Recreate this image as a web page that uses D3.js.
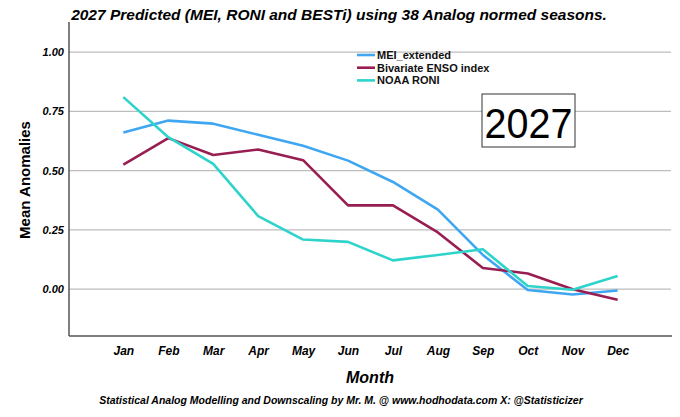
<!DOCTYPE html>
<html>
<head>
<meta charset="utf-8">
<script src="https://cdn.jsdelivr.net/npm/d3@7"></script>
<style>
  body { margin: 0; background: #fff; }
  svg { display: block; }
</style>
</head>
<body>
<svg id="chart" width="680" height="417"></svg>
<script>
// values
const months = ['Jan', 'Feb', 'Mar', 'Apr', 'May', 'Jun', 'Jul', 'Aug', 'Sep', 'Oct', 'Nov', 'Dec'];
const meiExtended = [0.661, 0.711, 0.698, 0.651, 0.605, 0.542, 0.452, 0.335, 0.144, -0.004, -0.023, -0.006];
const bivariateEnso = [0.525, 0.637, 0.566, 0.589, 0.544, 0.353, 0.353, 0.239, 0.089, 0.066, -0.001, -0.045];
const noaaRoni = [0.810, 0.641, 0.528, 0.308, 0.209, 0.199, 0.121, 0.144, 0.168, 0.013, -0.003, 0.055];
const yTicks = [0, 0.25, 0.5, 0.75, 1.0];

const series = [
  { name: 'MEI_extended', values: meiExtended, color: '#3fa6f2' },
  { name: 'Bivariate ENSO index', values: bivariateEnso, color: '#981e52' },
  { name: 'NOAA RONI', values: noaaRoni, color: '#2ed3cb' }
];

const svg = d3.select('#chart');
const margin = { top: 22, right: 8, bottom: 81, left: 69 };
const width = +svg.attr('width');
const height = +svg.attr('height');
const innerWidth = width - margin.left - margin.right;
const innerHeight = height - margin.top - margin.bottom;

const xScale = d3.scalePoint()
  .domain(months)
  .range([0, innerWidth])
  .padding(1.21);

const yScale = d3.scaleLinear()
  .domain([-0.198, 1.127])
  .range([innerHeight, 0]);

const g = svg.append('g')
  .attr('transform', `translate(${margin.left},${margin.top})`);

// gridlines
g.append('g')
  .selectAll('line').data(yTicks)
  .enter().append('line')
  .attr('x1', 0)
  .attr('x2', innerWidth - 1)
  .attr('y1', d => yScale(d))
  .attr('y2', d => yScale(d))
  .attr('stroke', '#bdbdbd')
  .attr('stroke-width', 1.2);

// y axis
const yAxis = d3.axisLeft(yScale)
  .tickValues(yTicks)
  .tickFormat(d3.format('.2f'))
  .tickSize(0)
  .tickPadding(5);
const yg = g.append('g').call(yAxis);
yg.select('.domain').remove();
yg.selectAll('text')
  .attr('font-family', 'Arial, "Liberation Sans", sans-serif')
  .attr('font-size', 11)
  .attr('font-weight', 'bold')
  .attr('font-style', 'italic')
  .attr('fill', '#000');

// x axis labels
const xAxis = d3.axisBottom(xScale).tickSize(0).tickPadding(10);
const xg = g.append('g')
  .attr('transform', `translate(0,${innerHeight})`)
  .call(xAxis);
xg.select('.domain').remove();
xg.selectAll('text')
  .attr('font-family', 'Arial, "Liberation Sans", sans-serif')
  .attr('font-size', 12)
  .attr('font-weight', 'bold')
  .attr('font-style', 'italic')
  .attr('fill', '#000');

// frame lines (left and bottom)
g.append('line')
  .attr('x1', 0).attr('x2', 0)
  .attr('y1', 0).attr('y2', innerHeight)
  .attr('stroke', '#555').attr('stroke-width', 1.5);
g.append('line')
  .attr('x1', 0).attr('x2', innerWidth)
  .attr('y1', innerHeight).attr('y2', innerHeight)
  .attr('stroke', '#555').attr('stroke-width', 1.5);

// lines
const line = d3.line()
  .x((d, i) => xScale(months[i]))
  .y(d => yScale(d));

g.selectAll('.series').data(series)
  .enter().append('path')
  .attr('class', 'series')
  .attr('d', d => line(d.values))
  .attr('fill', 'none')
  .attr('stroke', d => d.color)
  .attr('stroke-width', 2.6)
  .attr('stroke-linejoin', 'round');

// legend
const legend = svg.append('g').attr('transform', 'translate(357,55)');
const items = legend.selectAll('g').data(series)
  .enter().append('g')
  .attr('transform', (d, i) => `translate(0,${i * 12.7})`);
items.append('line')
  .attr('x1', 0).attr('x2', 18)
  .attr('y1', 0).attr('y2', 0)
  .attr('stroke', d => d.color)
  .attr('stroke-width', 2.6);
items.append('text')
  .attr('x', 20)
  .attr('y', 4)
  .text(d => d.name)
  .attr('font-family', 'Arial, "Liberation Sans", sans-serif')
  .attr('font-size', 11)
  .attr('font-weight', 'bold')
  .attr('fill', '#111');

// year box
svg.append('rect')
  .attr('x', 482).attr('y', 94)
  .attr('width', 93).attr('height', 53)
  .attr('fill', '#fff')
  .attr('stroke', '#333')
  .attr('stroke-width', 1);
svg.append('text')
  .attr('transform', 'translate(528.5,138) scale(0.92,1)')
  .attr('text-anchor', 'middle')
  .attr('font-family', 'Arial, "Liberation Sans", sans-serif')
  .attr('font-size', 43)
  .attr('fill', '#000')
  .text('2027');

// title
svg.append('text')
  .attr('x', 339).attr('y', 20)
  .attr('text-anchor', 'middle')
  .attr('font-family', 'Arial, "Liberation Sans", sans-serif')
  .attr('font-size', 15.5)
  .attr('font-weight', 'bold')
  .attr('font-style', 'italic')
  .attr('fill', '#000')
  .text('2027 Predicted (MEI, RONI and BESTi) using 38 Analog normed seasons.');

// axis titles
svg.append('text')
  .attr('transform', 'translate(30,180) rotate(-90)')
  .attr('text-anchor', 'middle')
  .attr('font-family', 'Arial, "Liberation Sans", sans-serif')
  .attr('font-size', 15)
  .attr('font-weight', 'bold')
  .attr('fill', '#000')
  .text('Mean Anomalies');

svg.append('text')
  .attr('x', 370).attr('y', 383)
  .attr('text-anchor', 'middle')
  .attr('font-family', 'Arial, "Liberation Sans", sans-serif')
  .attr('font-size', 16)
  .attr('font-weight', 'bold')
  .attr('font-style', 'italic')
  .attr('fill', '#000')
  .text('Month');

// footer
svg.append('text')
  .attr('x', 341).attr('y', 404)
  .attr('text-anchor', 'middle')
  .attr('font-family', 'Arial, "Liberation Sans", sans-serif')
  .attr('font-size', 10.5)
  .attr('font-weight', 'bold')
  .attr('font-style', 'italic')
  .attr('fill', '#000')
  .text('Statistical Analog Modelling and Downscaling by Mr. M. @ www.hodhodata.com X: @Statisticizer');
</script>
</body>
</html>
